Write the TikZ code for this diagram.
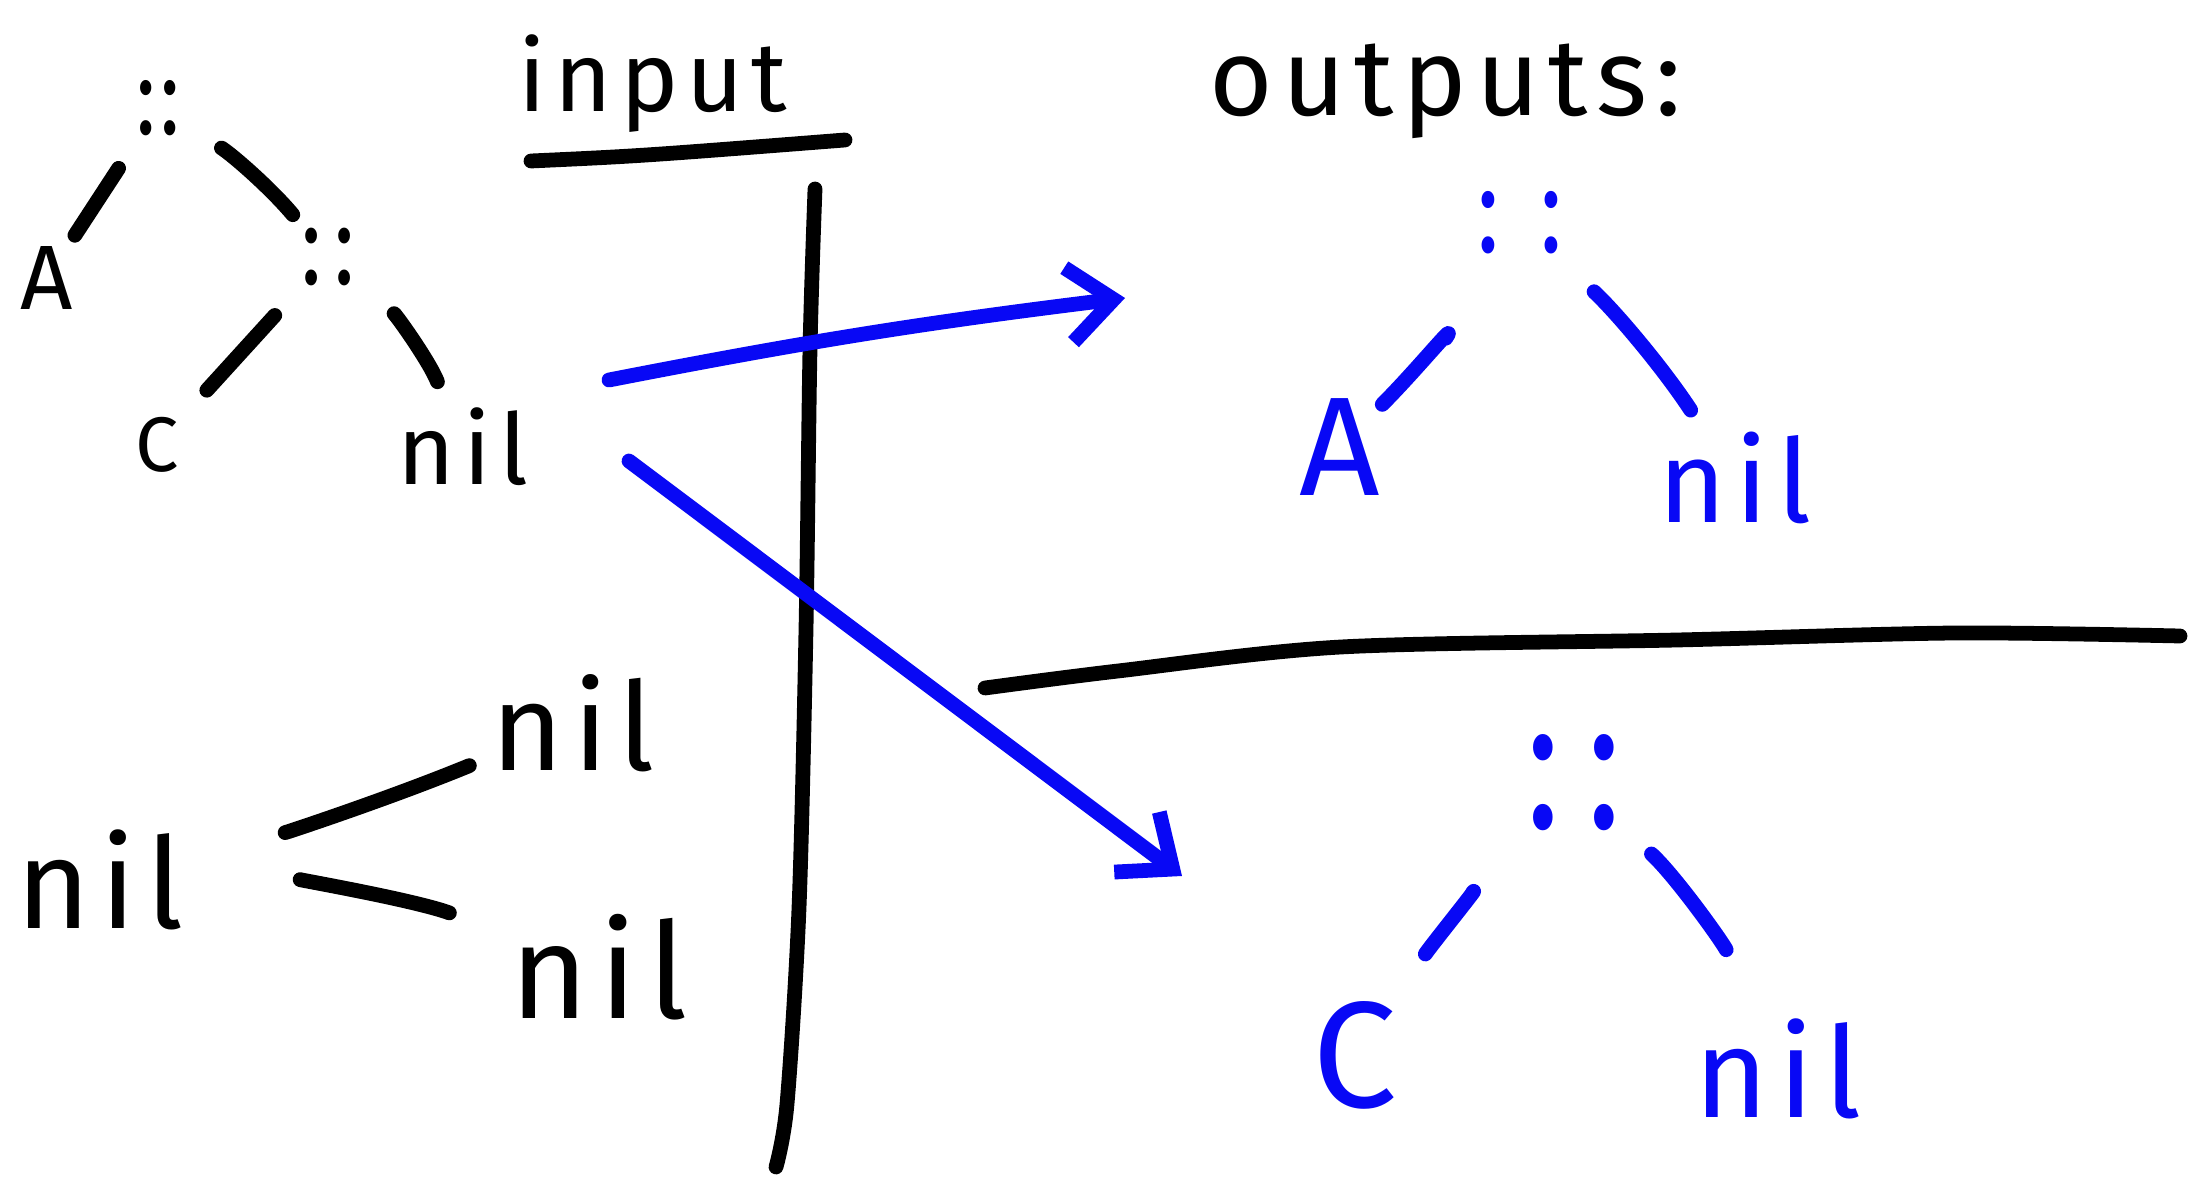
\documentclass[tikz,border=0pt]{standalone}
\usepackage{fontspec}
\usepackage{graphicx}
\setmainfont[LetterSpace=8]{Fira Sans}
\usetikzlibrary{arrows.meta}
\definecolor{pen}{RGB}{8,8,245}
\newcommand\sz[1]{\fontsize{#1}{#1}\selectfont}
\newcommand\tallcons[2]{\scalebox{1}[1.35]{\sz{#1}:\hspace{#2}:}}
\tikzset{
  stroke/.style={line width=4.2pt, line cap=round, line join=round},
  lbl/.style={inner sep=0pt, anchor=center},
  tip/.style={-{Straight Barb[length=0.45cm,width=0.75cm]}}
}
\begin{document}
\begin{tikzpicture}[x=0.01cm,y=-0.01cm]
\fill[white] (0,0) rectangle (2191,1180);
\useasboundingbox (0,0) rectangle (2191,1180);

% headings
\node[lbl] (inp) at (653,84) {\sz{28}input};
\draw[stroke] (531,161) .. controls (640,156) .. (845,140);
\node[lbl] (outp) at (1446,91) {\sz{31}outputs:};

% dividers
\draw[stroke] plot[smooth] coordinates {(815,189) (810,349) (806,629) (799,908) (787,1104) (776,1167)};
\draw[stroke] plot[smooth] coordinates {(985,688) (1118,671) (1341,647) (1677,640) (1956,633) (2180,636)};

% input tree: A :: (C :: nil)
\node[lbl] (t1) at (158,108) {\tallcons{23}{0.05em}};
\node[lbl] (a1) at (47,278) {\sz{26}A};
\node[lbl] (t2) at (328,257) {\tallcons{24}{0.15em}};
\node[lbl] (c1) at (157,445) {\sz{22}C};
\node[lbl] (n1) at (463,447) {\sz{28}nil};
\draw[stroke, shorten <=0.72cm, shorten >=0.51cm] (t1.center) -- (a1.center);
\draw[stroke, shorten <=0.75cm, shorten >=0.55cm] (t1.center) to[bend left=9] (t2.center);
\draw[stroke, shorten <=0.79cm, shorten >=0.74cm] (t2.center) -- (c1.center);
\draw[stroke, shorten <=0.87cm, shorten >=0.70cm] (t2.center) to[bend left=14] (n1.center);

% input tree: nil with two nil branches
\node[lbl] (n4) at (100,880) {\sz{36}nil};
\node[lbl] (n5) at (573,723) {\sz{35}nil};
\node[lbl] (n6) at (599,967) {\sz{38}nil};
\draw[stroke, shorten <=1.91cm, shorten >=1.12cm] (n4.center) to[bend right=4] (n5.center);
\draw[stroke, shorten <=2.00cm, shorten >=1.59cm] (n4.center) to[bend left=10] (n6.center);

% outputs: A :: nil
\node[lbl, text=pen] (t3) at (1520,223) {\tallcons{26}{0.45em}};
\node[lbl, text=pen] (a2) at (1340,447) {\sz{40}A};
\node[lbl, text=pen] (n2) at (1735,478) {\sz{33}nil};
\draw[stroke, pen, shorten <=1.37cm, shorten >=0.60cm] (t3.center) to[bend left=6] (a2.center);
\draw[stroke, pen, shorten <=1.01cm, shorten >=0.81cm] (t3.center) to[bend left=7] (n2.center);

% outputs: C :: nil
\node[lbl, text=pen] (t4) at (1574,783) {\tallcons{40}{0.2em}};
\node[lbl, text=pen] (c2) at (1355,1055) {\sz{43}C};
\node[lbl, text=pen] (n3) at (1778,1069) {\sz{36}nil};
\draw[stroke, pen, shorten <=1.49cm, shorten >=1.23cm] (t4.center) to[bend right=4] (c2.center);
\draw[stroke, pen, shorten <=1.05cm, shorten >=1.30cm] (t4.center) to[bend left=12] (n3.center);

% arrows from the input to the outputs
\coordinate (a1s) at (609,380);
\coordinate (a1e) at (1125,298);
\coordinate (a2s) at (629,461);
\coordinate (a2e) at (1182,876);
\draw[stroke, pen, tip] (a1s) to[bend left=2] (a1e);
\draw[stroke, pen, tip] (a2s) -- (a2e);
\end{tikzpicture}
\end{document}
